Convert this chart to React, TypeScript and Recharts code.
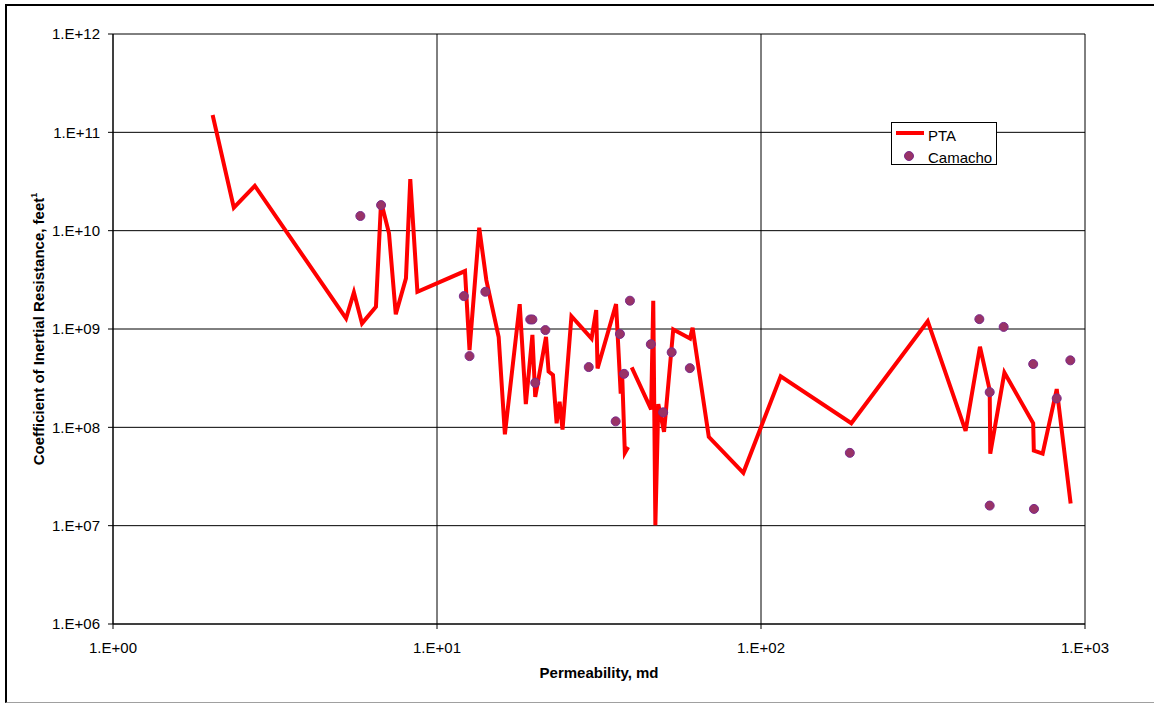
import React from "react";
import {
  ComposedChart,
  Line,
  Scatter,
  XAxis,
  YAxis,
  CartesianGrid,
  Legend,
} from "recharts";

// PTA curve (permeability md, inertial resistance); null marks the break in the line
const ptaPerm = [
  2.03, 2.36, 2.74, 5.24, 5.54, 5.87, 6.48, 6.72, 7.11, 7.46, 8.02, 8.27, 8.7,
  12.2, 12.6, 13.5, 14.2, 15.5, 16.2, 18.0, 18.8, 19.7, 20.1, 21.7, 22.1, 22.8,
  23.4, 23.9, 24.4, 26.0, 30.0, 31.0, 31.3, 35.7, 36.9, 37.3, 38.0, 38.9, 39.4,
  39.9, 45.8, 46.5, 47.2, 48.2, 50.2, 53.6, 60.4, 61.5, 69.0, 88.2, 115, 190,
  327, 428, 474, 508, 510, 564, 692, 695, 740, 818, 903,
];
const ptaResistance = [
  1.5e11, 1.71e10, 2.86e10, 1.28e9, 2.36e9, 1.14e9, 1.68e9, 1.97e10, 9.4e9,
  1.41e9, 3.27e9, 3.35e10, 2.39e9, 3.88e9, 6.1e8, 1.07e10, 3.14e9, 8.3e8,
  8.5e7, 1.79e9, 1.72e8, 8.7e8, 2.04e8, 8.3e8, 3.7e8, 3.4e8, 1.1e8, 1.82e8,
  9.5e7, 1.35e9, 8.0e8, 1.56e9, 3.97e8, 1.79e9, 2.2e8, 3.27e8, 5.5e7, 6.3e7,
  null, 4.07e8, 1.52e8, 1.94e9, 1.01e7, 1.72e8, 9.0e7, 9.9e8, 8.0e8, 1.03e9,
  8.0e7, 3.45e7, 3.3e8, 1.1e8, 1.2e9, 9.2e7, 6.6e8, 2.39e8, 5.4e7, 3.6e8,
  1.1e8, 5.8e7, 5.4e7, 2.45e8, 1.68e7,
];

// Camacho points
const camachoPerm = [
  5.8, 6.72, 12.1, 12.6, 14.1, 19.4, 19.7, 21.6, 20.1, 29.4, 35.6, 36.7, 37.8,
  39.4, 45.7, 49.9, 53.0, 60.3, 188, 472, 561, 692, 901, 508, 818, 508, 696,
];
const camachoResistance = [
  1.41e10, 1.82e10, 2.16e9, 5.3e8, 2.39e9, 1.25e9, 1.25e9, 9.75e8, 2.84e8,
  4.1e8, 1.15e8, 8.9e8, 3.5e8, 1.94e9, 7.0e8, 1.42e8, 5.8e8, 4.0e8, 5.5e7,
  1.26e9, 1.05e9, 4.4e8, 4.8e8, 2.28e8, 1.97e8, 1.6e7, 1.48e7,
];

const xTicks = [1, 10, 100, 1000];
const yTicks = [1e6, 1e7, 1e8, 1e9, 1e10, 1e11, 1e12];

const ptaData = ptaPerm.map((x, i) => ({ x, y: ptaResistance[i] }));
const camachoData = camachoPerm.map((x, i) => ({ x, y: camachoResistance[i] }));

const font = "'Liberation Sans', Arial, Helvetica, sans-serif";

const sciFormat = (v: number) =>
  "1.E+" + String(Math.round(Math.log10(v))).padStart(2, "0");

const Dot = (props: any) => (
  <circle
    cx={props.cx}
    cy={props.cy}
    r={4.5}
    fill="#993366"
    stroke="#7a2a8c"
    strokeWidth={1}
  />
);

const YTitle = () => (
  <text
    x={44}
    y={329}
    transform="rotate(-90 44 329)"
    textAnchor="middle"
    fontFamily={font}
    fontSize={15}
    fontWeight="bold"
    fill="#000"
  >
    Coefficient of Inertial Resistance, feet
    <tspan fontSize={9} dy={-7}>
      1
    </tspan>
  </text>
);

const XTitle = () => (
  <text
    x={599}
    y={678}
    textAnchor="middle"
    fontFamily={font}
    fontSize={15}
    fontWeight="bold"
    fill="#000"
  >
    Permeability, md
  </text>
);

const LegendBox = () => (
  <div
    style={{
      position: "relative",
      width: 106,
      height: 43,
      boxSizing: "border-box",
      border: "1px solid #000",
      background: "#fff",
      fontFamily: font,
      fontSize: 15,
      color: "#000",
    }}
  >
    <div
      style={{
        position: "absolute",
        left: 4,
        top: 8,
        width: 28,
        height: 4,
        background: "#ff0000",
      }}
    />
    <div style={{ position: "absolute", left: 36, top: 4, lineHeight: "17px" }}>
      PTA
    </div>
    <svg
      width={12}
      height={12}
      style={{ position: "absolute", left: 11, top: 27 }}
    >
      <circle cx={6} cy={6} r={4.5} fill="#993366" stroke="#7a2a8c" />
    </svg>
    <div style={{ position: "absolute", left: 36, top: 26, lineHeight: "17px" }}>
      Camacho
    </div>
  </div>
);

export default function App() {
  return (
    <div
      style={{
        position: "absolute",
        left: 0,
        top: 0,
        width: 1154,
        height: 704,
        background: "#fff",
        overflow: "hidden",
      }}
    >
      <div
        style={{
          position: "absolute",
          left: 5,
          top: 4,
          width: 1160,
          height: 699,
          boxSizing: "border-box",
          borderLeft: "2px solid #000",
          borderTop: "2px solid #000",
          borderBottom: "1px solid #a0a0a0",
        }}
      />
      <ComposedChart
        width={1154}
        height={704}
        margin={{ top: 34, right: 69, bottom: 50, left: 53 }}
      >
        <CartesianGrid stroke="#000" strokeWidth={1} />
        <XAxis
          dataKey="x"
          type="number"
          scale="log"
          domain={[1, 1000]}
          ticks={xTicks}
          allowDataOverflow
          tickFormatter={sciFormat}
          height={30}
          tickSize={5}
          tickMargin={13}
          stroke="#000"
          tick={{ fontSize: 15, fill: "#000", fontFamily: font }}
          label={{ content: XTitle }}
        />
        <YAxis
          dataKey="y"
          type="number"
          scale="log"
          domain={[1e6, 1e12]}
          ticks={yTicks}
          allowDataOverflow
          tickFormatter={sciFormat}
          width={60}
          tickSize={5}
          tickMargin={8}
          stroke="#000"
          tick={{ fontSize: 15, fill: "#000", fontFamily: font }}
          label={{ content: YTitle }}
        />
        <Line
          data={ptaData}
          dataKey="y"
          name="PTA"
          stroke="#ff0000"
          strokeWidth={4}
          dot={false}
          activeDot={false}
          connectNulls={false}
          isAnimationActive={false}
        />
        <Scatter
          data={camachoData}
          dataKey="y"
          name="Camacho"
          shape={Dot}
          isAnimationActive={false}
        />
        <Legend
          content={LegendBox}
          layout="horizontal"
          verticalAlign="middle"
          align="center"
          wrapperStyle={{ left: 891, top: 122, width: 106, height: 43 }}
        />
      </ComposedChart>
    </div>
  );
}
